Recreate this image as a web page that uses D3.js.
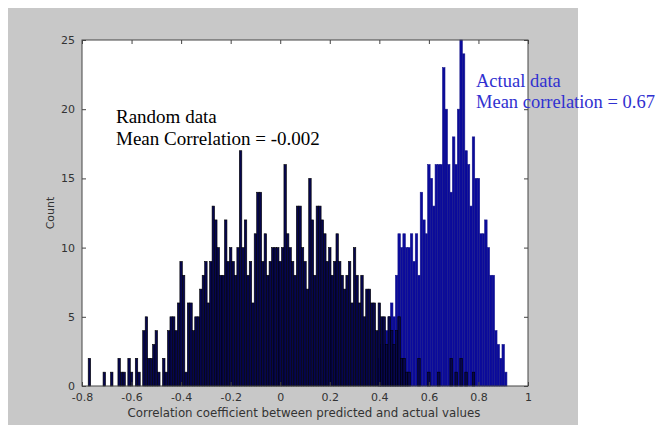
<!DOCTYPE html>
<html><head><meta charset="utf-8">
<script src="https://cdn.jsdelivr.net/npm/d3@7"></script>
<style>body{margin:0;background:#fff}svg{display:block}</style>
</head><body>
<svg id="c" width="659" height="430"></svg>
<script>
// ---- data (bin centres, bin width 0.01) ----
const randomX = [-0.77,-0.71,-0.68,-0.65,-0.64,-0.63,-0.61,-0.60,-0.58,-0.57,-0.55,-0.54,-0.53,-0.52,-0.51,-0.50,-0.49,-0.47,-0.46,-0.45,-0.44,-0.43,-0.42,-0.41,-0.40,-0.39,-0.38,-0.37,-0.36,-0.35,-0.34,-0.33,-0.32,-0.31,-0.30,-0.29,-0.28,-0.27,-0.26,-0.25,-0.24,-0.23,-0.22,-0.21,-0.20,-0.19,-0.18,-0.17,-0.16,-0.15,-0.14,-0.13,-0.12,-0.11,-0.10,-0.09,-0.08,-0.07,-0.06,-0.05,-0.04,-0.03,-0.02,-0.01,0.00,0.01,0.02,0.03,0.04,0.05,0.06,0.07,0.08,0.09,0.10,0.11,0.12,0.13,0.14,0.15,0.16,0.17,0.18,0.19,0.20,0.21,0.22,0.23,0.24,0.25,0.26,0.27,0.28,0.29,0.30,0.31,0.32,0.33,0.34,0.35,0.36,0.37,0.38,0.39,0.40,0.41,0.42,0.43,0.44,0.45,0.46,0.47,0.48,0.49,0.50,0.51,0.52,0.56,0.60,0.64,0.69,0.71,0.73,0.75,0.78];
const randomCount = [2,1,1,2,1,1,2,1,2,1,4,5,2,2,3,4,1,2,1,4,5,5,4,6,9,8,1,6,6,4,5,5,7,8,9,6,9,13,12,10,8,8,12,9,10,9,8,10,17,10,12,8,9,6,11,14,14,9,11,8,9,10,10,10,9,10,16,11,10,9,8,13,13,10,9,7,15,12,8,13,13,12,11,9,10,8,9,11,9,8,7,8,9,6,10,8,6,8,5,7,7,6,6,4,6,5,5,3,5,4,3,4,5,2,2,1,1,2,1,1,2,1,2,1,1];
const actualX = [0.40,0.41,0.42,0.43,0.44,0.45,0.46,0.47,0.48,0.49,0.50,0.51,0.52,0.53,0.54,0.55,0.56,0.57,0.58,0.59,0.60,0.61,0.62,0.63,0.64,0.65,0.66,0.67,0.68,0.69,0.70,0.71,0.72,0.73,0.74,0.75,0.76,0.77,0.78,0.79,0.80,0.81,0.82,0.83,0.84,0.85,0.86,0.87,0.88,0.89,0.90,0.91];
const actualCount = [2,3,3,4,5,6,5,8,11,10,11,10,10,11,9,11,8,14,12,11,16,15,13,16,16,16,23,20,16,14,18,16,20,25,24,17,16,13,18,15,15,11,11,12,10,8,8,4,3,2,3,1];
const binWidth = 0.01;
const xTicks = [-0.8,-0.6,-0.4,-0.2,0,0.2,0.4,0.6,0.8,1];
const yTicks = [0,5,10,15,20,25];

const svg = d3.select("#c");
const L=82, R=528, T=40, B=386;
const x = d3.scaleLinear([-0.8,1],[L,R]);
const y = d3.scaleLinear([0,25],[B,T]);

// figure background
svg.append("rect").attr("x",8).attr("y",8).attr("width",570).attr("height",417).attr("fill","#c8c8c8");
svg.append("rect").attr("x",L).attr("y",T).attr("width",R-L).attr("height",B-T).attr("fill","#fff");

const g = svg.append("g");
function drawBars(xs, cs, fill, stroke){
  g.append("g").selectAll("rect").data(xs.map((v,i)=>({x:v,c:cs[i]}))).join("rect")
    .attr("x",d=>x(d.x-binWidth/2)).attr("width",d=>x(d.x+binWidth/2)-x(d.x-binWidth/2))
    .attr("y",d=>y(d.c)).attr("height",d=>y(0)-y(d.c))
    .attr("fill",fill).attr("stroke",stroke).attr("stroke-width",0.6);
}
drawBars(actualX, actualCount, "#0a0a9c", "#1a1a8a");
drawBars(randomX, randomCount, "#06064e", "#000");

const fmt = d=>String(+d.toFixed(1));
const axCol="#444";
const sans="'DejaVu Sans',Arial,sans-serif";
function style(sel){
  sel.select(".domain").remove();
  sel.selectAll("line").attr("stroke",axCol);
  sel.selectAll("text").attr("fill","#333").style("font-family",sans).style("font-size","11px");
}
svg.append("g").attr("transform",`translate(0,${B})`).call(d3.axisBottom(x).tickValues(xTicks).tickFormat(fmt).tickSizeInner(-4).tickSizeOuter(0).tickPadding(7)).call(style);
svg.append("g").attr("transform",`translate(0,${T})`).call(d3.axisTop(x).tickValues(xTicks).tickFormat("").tickSizeInner(-4).tickSizeOuter(0)).call(style);
svg.append("g").attr("transform",`translate(${L},0)`).call(d3.axisLeft(y).tickValues(yTicks).tickFormat(fmt).tickSizeInner(-4).tickSizeOuter(0).tickPadding(7)).call(style);
svg.append("g").attr("transform",`translate(${R},0)`).call(d3.axisRight(y).tickValues(yTicks).tickFormat("").tickSizeInner(-4).tickSizeOuter(0)).call(style);
svg.append("rect").attr("x",L).attr("y",T).attr("width",R-L).attr("height",B-T).attr("fill","none").attr("stroke",axCol).attr("stroke-width",1);

// axis titles
svg.append("text").attr("x",304).attr("y",417).attr("text-anchor","middle")
  .style("font-family",sans).style("font-size","11.8px").attr("fill","#333")
  .text("Correlation coefficient between predicted and actual values");
svg.append("text").attr("transform","translate(54,213) rotate(-90)").attr("text-anchor","middle")
  .style("font-family",sans).style("font-size","11px").attr("fill","#333").text("Count");

// annotations
const serif="'Liberation Serif','Times New Roman',serif";
svg.append("text").attr("x",116).attr("y",123).style("font-family",serif).style("font-size","19px").attr("fill","#000").text("Random data");
svg.append("text").attr("x",116).attr("y",145).style("font-family",serif).style("font-size","19px").attr("fill","#000").text("Mean Correlation = -0.002");
svg.append("text").attr("x",476).attr("y",87).style("font-family",serif).style("font-size","18.5px").attr("fill","#3030d0").text("Actual data");
svg.append("text").attr("x",476).attr("y",108).style("font-family",serif).style("font-size","18.5px").attr("fill","#3030d0").text("Mean correlation = 0.67");
</script>
</body></html>
